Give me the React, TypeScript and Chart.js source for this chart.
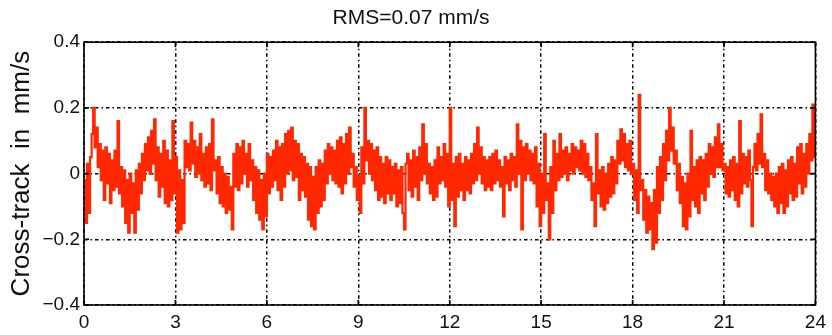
import React, { useEffect, useRef } from "react";
import { Chart, registerables } from "chart.js";

Chart.register(...registerables);

const TITLE = "RMS=0.07 mm/s";
const Y_LABEL = "Cross-track  in  mm/s";
const X_TICKS = [0, 3, 6, 9, 12, 15, 18, 21, 24];
const Y_TICKS = [-0.4, -0.2, 0, 0.2, 0.4];
const HOURS_SPAN = 24;

// Cross-track rate samples (mm/s), one every 0.05 h
const H00 = [-0.02, -0.15, 0.03, -0.12, 0.05, 0.12, 0.2, 0.08, 0.14, 0.02, 0.09, -0.02, 0.07, -0.08, 0.08, -0.03, 0.06, -0.09, 0.04, -0.05];
const H01 = [0.07, -0.04, 0.16, -0.06, 0.02, -0.1, 0.01, -0.15, -0.02, -0.18, 0.0, -0.12, -0.03, -0.18, 0.01, -0.11, 0.03, -0.06, 0.06, -0.02];
const H02 = [0.09, 0.01, 0.11, 0.0, 0.13, 0.03, 0.165, -0.02, 0.08, -0.07, 0.06, -0.04, 0.1, -0.09, 0.07, -0.1, 0.04, -0.08, 0.16, -0.06];
const H03 = [0.05, -0.18, 0.01, -0.17, -0.02, -0.15, 0.1, 0.02, 0.09, 0.01, 0.155, 0.03, 0.1, -0.01, 0.08, 0.0, 0.12, -0.02, 0.06, -0.04];
const H04 = [0.08, -0.03, 0.09, -0.05, 0.165, 0.01, 0.04, -0.06, 0.05, -0.09, 0.02, -0.1, 0.0, -0.12, -0.01, -0.11, -0.04, -0.17, 0.06, -0.04];
const H05 = [0.09, -0.05, 0.08, -0.03, 0.1, 0.0, 0.06, -0.04, 0.09, -0.02, 0.04, -0.08, 0.02, -0.12, 0.01, -0.14, -0.02, -0.17, 0.0, -0.13];
const H06 = [0.06, -0.06, 0.05, -0.04, 0.07, -0.02, 0.1, -0.05, 0.08, -0.08, 0.09, -0.04, 0.12, 0.0, 0.13, 0.01, 0.14, -0.02, 0.1, -0.01];
const H07 = [0.09, -0.08, 0.06, -0.05, 0.05, -0.07, 0.03, -0.14, 0.02, -0.16, -0.01, -0.17, 0.02, -0.12, 0.04, -0.1, 0.03, -0.08, 0.07, -0.03];
const H08 = [0.09, 0.0, 0.08, -0.02, 0.07, -0.03, 0.1, -0.04, 0.11, -0.06, 0.09, -0.03, 0.12, 0.0, 0.14, 0.02, 0.06, -0.04, 0.02, -0.08];
const H09 = [-0.01, -0.12, 0.08, -0.03, 0.2, 0.04, 0.1, 0.0, 0.09, -0.02, 0.07, -0.05, 0.08, -0.08, 0.05, -0.07, 0.03, -0.09, 0.05, -0.06];
const H10 = [0.04, -0.08, 0.02, -0.06, 0.03, -0.1, 0.01, -0.09, 0.02, -0.12, -0.17, 0.03, 0.06, -0.05, 0.04, -0.07, 0.07, -0.04, 0.05, -0.08];
const H11 = [0.08, -0.02, 0.15, 0.0, 0.09, -0.03, 0.03, -0.06, 0.02, -0.08, 0.04, -0.07, 0.08, -0.03, 0.05, -0.02, 0.09, -0.04, 0.06, -0.1];
const H12 = [0.2, -0.08, 0.03, -0.16, 0.05, -0.07, 0.06, -0.05, 0.03, -0.08, 0.05, -0.05, 0.04, -0.06, 0.06, -0.03, 0.09, -0.02, 0.14, 0.0];
const H13 = [0.08, -0.03, 0.05, -0.05, 0.04, -0.04, 0.05, -0.05, 0.06, -0.03, 0.07, -0.02, 0.04, -0.04, 0.02, -0.13, 0.05, -0.03, 0.04, -0.05];
const H14 = [0.06, -0.02, 0.05, -0.04, 0.15, 0.0, 0.1, -0.17, 0.08, -0.02, 0.09, 0.0, 0.07, -0.02, 0.06, -0.03, 0.08, -0.1, 0.03, -0.16];
const H15 = [0.0, -0.12, 0.12, -0.08, -0.03, -0.2, 0.02, -0.12, 0.1, -0.05, 0.06, -0.02, 0.12, -0.01, 0.07, 0.0, 0.08, -0.02, 0.06, 0.01];
const H16 = [0.09, 0.0, 0.08, 0.02, 0.07, 0.01, 0.1, 0.0, 0.09, -0.01, 0.06, -0.02, 0.02, -0.08, -0.03, -0.16, 0.12, -0.06, 0.01, -0.1];
const H17 = [0.02, -0.11, 0.0, -0.09, 0.03, -0.07, 0.05, -0.06, 0.04, -0.03, 0.1, 0.03, 0.135, 0.04, 0.12, 0.02, 0.09, 0.01, 0.1, 0.0];
const H18 = [0.03, -0.08, 0.01, -0.12, 0.24, -0.05, -0.02, -0.14, -0.05, -0.18, -0.07, -0.17, -0.09, -0.23, -0.05, -0.21, 0.02, -0.12, 0.05, -0.08];
const H19 = [0.09, -0.02, 0.13, 0.04, 0.2, 0.07, 0.14, 0.03, 0.07, -0.05, 0.03, -0.09, -0.01, -0.16, -0.03, -0.17, 0.0, -0.13, 0.13, -0.08];
const H20 = [0.02, -0.1, 0.04, -0.12, 0.05, -0.06, 0.04, -0.08, 0.06, -0.04, 0.09, 0.0, 0.08, -0.01, 0.11, 0.02, 0.15, 0.02, 0.09, 0.01];
const H21 = [0.03, -0.06, 0.02, -0.07, 0.04, -0.05, 0.05, -0.08, 0.03, -0.1, 0.16, -0.06, 0.06, -0.03, 0.05, -0.04, 0.07, -0.02, -0.16, 0.02];
const H22 = [0.09, 0.01, 0.12, 0.03, 0.18, 0.02, 0.06, -0.05, 0.04, -0.06, 0.0, -0.08, -0.01, -0.1, 0.0, -0.12, 0.02, -0.09, 0.03, -0.12];
const H23 = [0.01, -0.1, 0.04, -0.06, 0.05, -0.08, 0.03, -0.07, 0.08, -0.03, 0.09, -0.06, 0.06, -0.04, 0.09, 0.0, 0.12, 0.04, 0.21, 0.05];
const H24 = [0.12];

const SERIES = [
  ...H00, ...H01, ...H02, ...H03, ...H04, ...H05, ...H06, ...H07,
  ...H08, ...H09, ...H10, ...H11, ...H12, ...H13, ...H14, ...H15,
  ...H16, ...H17, ...H18, ...H19, ...H20, ...H21, ...H22, ...H23, ...H24,
];

const FONT = "'Liberation Sans', Arial, Helvetica, sans-serif";

const boxPlugin = {
  id: "matlabBox",
  afterDatasetsDraw(chart: any) {
    const { ctx, chartArea } = chart;
    const { left, right, top, bottom } = chartArea;
    const xs = chart.scales.x;
    const ys = chart.scales.y;
    ctx.save();
    ctx.strokeStyle = "#000";
    ctx.lineWidth = 1.6;
    ctx.setLineDash([]);
    ctx.strokeRect(left, top, right - left, bottom - top);
    const tl = 5;
    ctx.beginPath();
    X_TICKS.forEach((t) => {
      const px = xs.getPixelForValue(t);
      ctx.moveTo(px, bottom);
      ctx.lineTo(px, bottom - tl);
      ctx.moveTo(px, top);
      ctx.lineTo(px, top + tl);
    });
    Y_TICKS.forEach((t) => {
      const py = ys.getPixelForValue(t);
      ctx.moveTo(left, py);
      ctx.lineTo(left + tl, py);
      ctx.moveTo(right, py);
      ctx.lineTo(right - tl, py);
    });
    ctx.stroke();
    ctx.restore();
  },
};

export default function App() {
  const ref = useRef<HTMLCanvasElement | null>(null);

  useEffect(() => {
    if (!ref.current) return;
    const step = HOURS_SPAN / (SERIES.length - 1);
    const points = SERIES.map((v, i) => ({ x: i * step, y: v }));
    const chart = new Chart(ref.current, {
      type: "line",
      data: {
        datasets: [
          {
            data: points,
            borderColor: "#ff2800",
            borderWidth: 2.2,
            pointRadius: 0,
            stepped: true,
            fill: false,
          },
        ],
      },
      options: {
        animation: false,
        responsive: false,
        parsing: false,
        layout: { padding: { left: 0, right: 10, top: 0, bottom: 0 } },
        plugins: {
          legend: { display: false },
          tooltip: { enabled: false },
          title: {
            display: true,
            text: TITLE,
            color: "#111",
            font: { family: FONT, size: 21, weight: "normal" },
            padding: { top: 6, bottom: 11 },
          },
        },
        scales: {
          x: {
            type: "linear",
            min: 0,
            max: 24,
            afterBuildTicks: (s: any) => {
              s.ticks = X_TICKS.map((v) => ({ value: v }));
            },
            afterFit: (s: any) => {
              s.height = 30;
            },
            ticks: {
              color: "#111",
              font: { family: FONT, size: 19 },
              padding: 6,
              maxRotation: 0,
              autoSkip: false,
              callback: (v: any) => String(v),
            },
            grid: { color: "#000", lineWidth: 1.5, drawTicks: false },
            border: { display: false, dash: [3.5, 3, 1.5, 3] },
          },
          y: {
            type: "linear",
            min: -0.4,
            max: 0.4,
            afterBuildTicks: (s: any) => {
              s.ticks = Y_TICKS.map((v) => ({ value: v }));
            },
            afterFit: (s: any) => {
              s.width = 84;
            },
            ticks: {
              color: "#111",
              font: { family: FONT, size: 19 },
              padding: 4,
              autoSkip: false,
              callback: (v: any) => {
                const n = Number(v);
                if (Math.abs(n) < 1e-9) return "0";
                const s = Math.abs(n).toFixed(1);
                return n < 0 ? "\u2212" + s : s;
              },
            },
            grid: { color: "#000", lineWidth: 1.5, drawTicks: false },
            border: { display: false, dash: [3.5, 3, 1.5, 3] },
            title: {
              display: true,
              text: Y_LABEL,
              color: "#111",
              font: { family: FONT, size: 26 },
              padding: { top: 6, bottom: 0 },
            },
          },
        },
      },
      plugins: [boxPlugin],
    } as any);
    return () => chart.destroy();
  }, []);

  return (
    <div style={{ position: "absolute", left: 0, top: 0, width: 832, height: 335, background: "#fff" }}>
      <canvas ref={ref} width={832} height={335} style={{ display: "block" }} />
    </div>
  );
}
